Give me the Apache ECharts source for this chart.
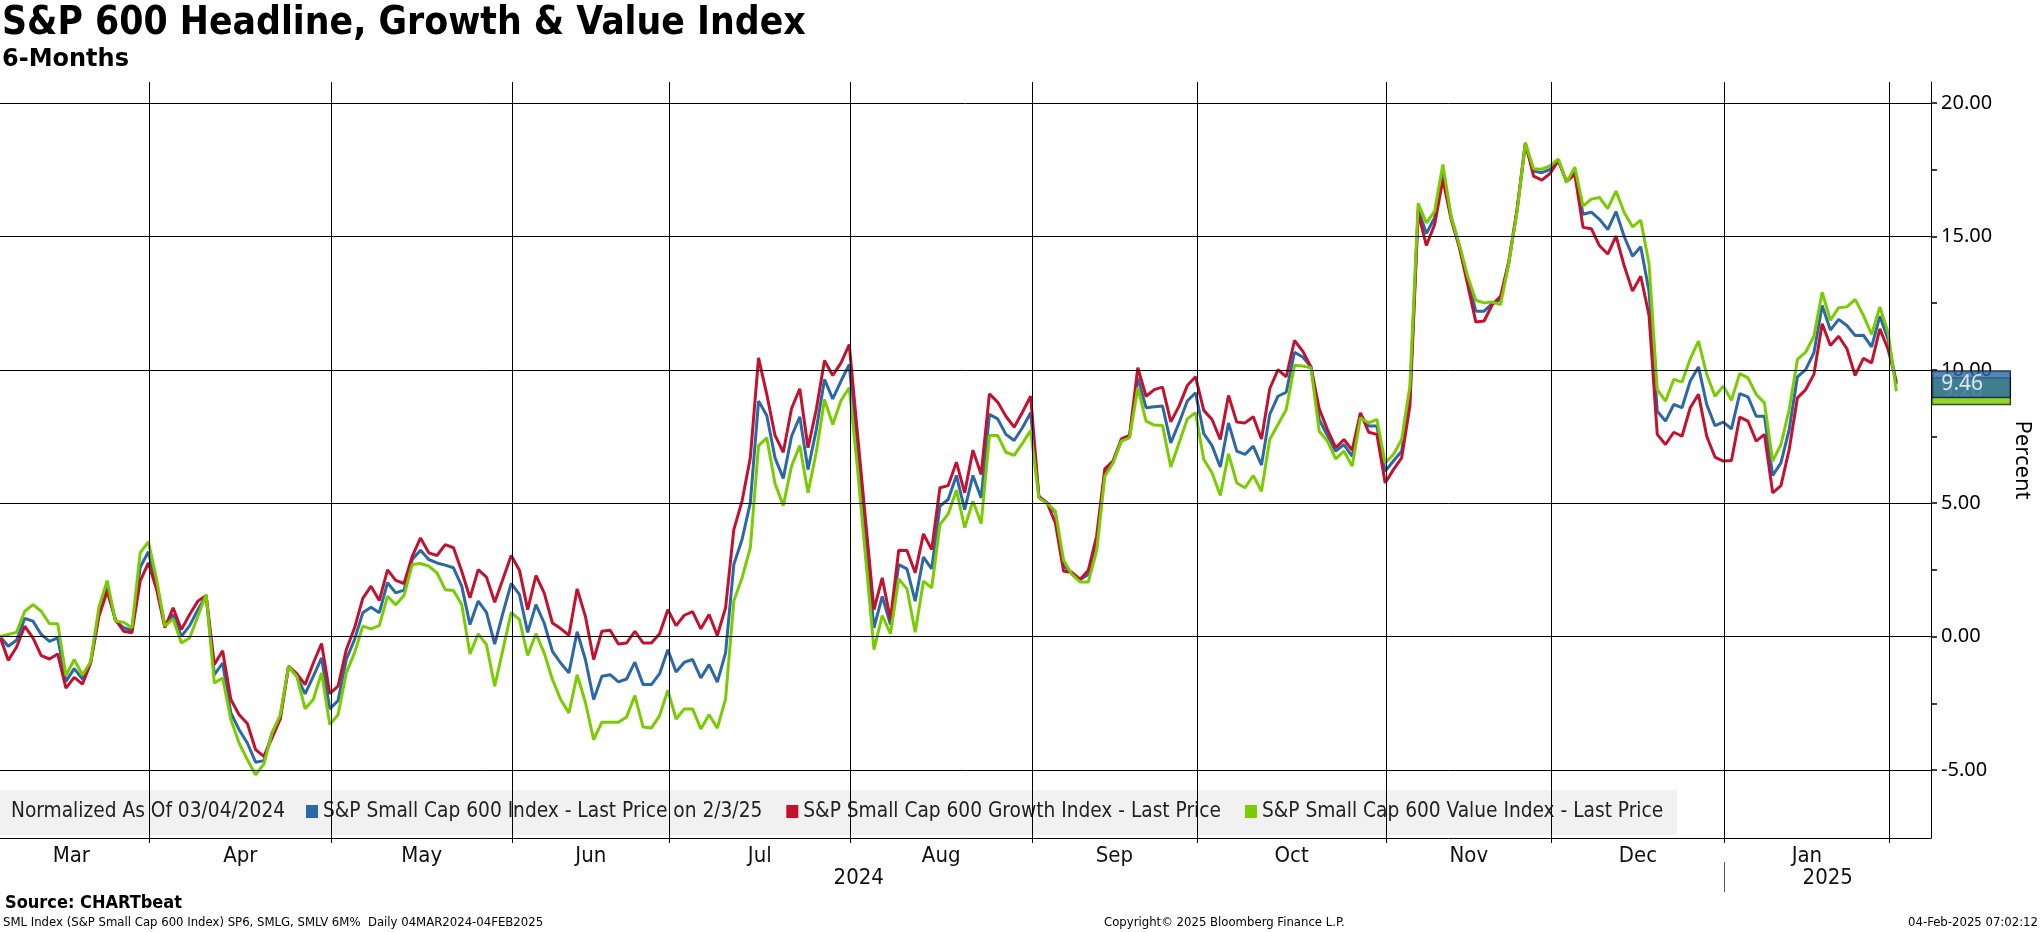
<!DOCTYPE html>
<html><head><meta charset="utf-8">
<script src="https://cdn.jsdelivr.net/npm/echarts@6/dist/echarts.min.js"></script>
<style>html,body{margin:0;padding:0;background:#fff;overflow:hidden}#c{width:2041px;height:932px}</style>
</head><body><div id="c"></div>
<script>
// ---------- DATA ----------
const startDate = '2024-03-04';
const endDate = '2025-02-03';
const marketHolidays = ['2024-03-29','2024-05-27','2024-06-19','2024-07-04','2024-09-02','2024-11-28','2024-12-25','2025-01-01','2025-01-09','2025-01-20'];
const monthNames = ['Mar','Apr','May','Jun','Jul','Aug','Sep','Oct','Nov','Dec','Jan'];
const yearNames = ['2024','2025'];
const seriesNames = ['S&P Small Cap 600 Index - Last Price on 2/3/25','S&P Small Cap 600 Growth Index - Last Price','S&P Small Cap 600 Value Index - Last Price'];
const yTickLabels = [-5, 0, 5, 10, 15, 20];

const sp600 = [
 0,-0.36,-0.14,0.68,0.58,0.08,-0.18,-0.05,-1.68,-1.2,
 -1.59,-0.95,0.91,1.89,0.6,0.33,0.23,2.6,3.18,1.95,
 0.41,0.83,0.01,0.41,1.01,1.54,-1.43,-0.99,-2.86,-3.49,
 -3.99,-4.71,-4.65,-3.61,-2.99,-1.11,-1.49,-2.15,-1.49,-0.8,
 -2.71,-2.4,-0.86,-0.11,0.89,1.1,0.89,2.02,1.64,1.74,
 2.89,3.24,2.89,2.76,2.68,2.58,1.89,0.45,1.33,0.91,
 -0.28,0.89,1.99,1.58,0.16,1.2,0.51,-0.55,-0.99,-1.36,
 0.18,-0.86,-2.36,-1.49,-1.43,-1.7,-1.59,-0.96,-1.8,-1.8,
 -1.39,-0.49,-1.33,-0.96,-0.86,-1.55,-1.05,-1.71,-0.61,2.7,
 3.64,5.01,8.83,8.29,6.7,5.93,7.51,8.24,6.26,7.76,
 9.64,8.91,9.58,10.2,6.9,3.6,0.33,1.51,0.45,2.7,
 2.54,1.33,2.98,2.54,4.89,5.14,6.04,4.76,6.04,5.2,
 8.33,8.16,7.58,7.35,7.83,8.39,5.26,5.01,4.64,2.64,
 2.39,2.14,2.33,3.51,6.2,6.58,7.33,7.51,9.7,8.58,
 8.62,8.64,7.26,8.01,8.83,9.14,7.61,7.16,6.36,8.01,
 6.95,6.83,7.14,6.43,8.33,9.01,9.16,10.66,10.48,10.11,
 8.14,7.54,6.95,7.2,6.76,8.33,7.89,7.89,6.2,6.58,
 6.95,9.01,16.01,15.11,15.7,17.41,15.74,14.64,13.39,12.2,
 12.2,12.49,12.64,14.01,16.01,18.45,17.45,17.39,17.51,17.85,
 17.05,17.41,15.83,15.91,15.64,15.26,15.93,14.99,14.26,14.61,
 12.95,8.45,8.08,8.7,8.58,9.58,10.11,8.7,7.91,8.04,
 7.79,9.11,8.99,8.26,8.26,6.04,6.51,7.76,9.74,10.01,
 10.64,12.41,11.49,11.89,11.66,11.29,11.3,10.86,12.01,11.14,
 9.46
];
const growth = [
 0,-0.89,-0.4,0.39,-0.05,-0.71,-0.84,-0.65,-1.93,-1.53,
 -1.78,-0.99,0.76,1.7,0.64,0.2,0.14,2.08,2.76,1.76,
 0.33,1.08,0.26,0.83,1.33,1.54,-1.05,-0.53,-2.36,-2.93,
 -3.26,-4.24,-4.49,-3.8,-3.09,-1.11,-1.39,-1.8,-0.99,-0.26,
 -2.14,-1.86,-0.49,0.33,1.43,1.89,1.35,2.5,2.11,1.99,
 3.01,3.7,3.14,3.04,3.45,3.33,2.45,1.45,2.51,2.23,
 1.29,2.16,3.04,2.49,1.01,2.29,1.64,0.51,0.3,0.05,
 1.79,0.76,-0.86,0.2,0.24,-0.28,-0.24,0.2,-0.24,-0.24,
 0.11,1.01,0.41,0.8,0.94,0.29,0.83,0.04,1.08,4.01,
 5.08,6.7,10.45,9.08,7.54,6.91,8.55,9.29,7.08,8.51,
 10.35,9.79,10.26,10.95,7.6,4.3,1.01,2.2,0.64,3.24,
 3.23,2.39,3.85,3.26,5.58,5.66,6.54,5.39,6.99,6.08,
 9.1,8.79,8.26,7.85,8.41,9.01,5.23,5.01,4.26,2.45,
 2.41,2.14,2.49,3.76,6.29,6.58,7.41,7.54,10.08,9.01,
 9.26,9.35,8.05,8.64,9.41,9.74,8.48,8.14,7.39,9.04,
 8.04,8.01,8.24,7.41,9.29,10.01,9.74,11.1,10.7,10.11,
 8.54,7.76,7.08,7.39,6.99,8.39,7.66,7.58,5.76,6.26,
 6.7,8.64,15.89,14.66,15.45,17.14,15.64,14.58,13.2,11.79,
 11.83,12.45,12.76,14.08,16.01,18.51,17.26,17.11,17.36,17.84,
 17.06,17.33,15.34,15.29,14.65,14.34,15.01,13.89,12.95,13.51,
 12.04,7.58,7.2,7.66,7.51,8.58,9.08,7.51,6.73,6.58,
 6.6,8.23,8.08,7.33,7.58,5.39,5.66,7.01,8.95,9.26,
 9.83,11.73,10.91,11.26,10.79,9.79,10.43,10.26,11.54,10.76,
 9.55
];
const value = [
 0,0.08,0.16,0.95,1.2,0.95,0.48,0.48,-1.46,-0.86,
 -1.44,-0.93,1.11,2.1,0.58,0.54,0.33,3.14,3.55,2.14,
 0.39,0.66,-0.24,-0.05,0.76,1.58,-1.74,-1.55,-3.11,-3.99,
 -4.61,-5.18,-4.78,-3.61,-2.93,-1.11,-1.49,-2.7,-2.36,-1.36,
 -3.3,-2.93,-1.36,-0.61,0.39,0.29,0.41,1.51,1.19,1.54,
 2.7,2.74,2.64,2.39,1.76,1.73,1.2,-0.65,0.1,-0.3,
 -1.86,-0.49,0.91,0.64,-0.71,0.11,-0.61,-1.61,-2.36,-2.86,
 -1.43,-2.46,-3.86,-3.21,-3.21,-3.21,-3.01,-2.21,-3.39,-3.43,
 -2.96,-2.01,-3.09,-2.71,-2.71,-3.46,-2.93,-3.43,-2.34,1.33,
 2.2,3.33,7.16,7.45,5.74,4.91,6.39,7.16,5.39,6.91,
 8.89,7.95,8.85,9.33,6.3,2.9,-0.49,0.79,0.11,2.16,
 1.79,0.16,2.08,1.83,4.2,4.6,5.49,4.08,5.08,4.24,
 7.54,7.54,6.91,6.79,7.24,7.73,5.2,4.99,4.7,2.86,
 2.33,2.05,2.05,3.2,6.01,6.51,7.33,7.45,9.33,8.08,
 7.93,7.91,6.36,7.26,8.16,8.39,6.64,6.14,5.29,6.85,
 5.76,5.58,6.04,5.45,7.39,7.95,8.51,10.16,10.14,10.08,
 7.7,7.33,6.66,6.95,6.39,8.2,8.01,8.14,6.51,6.83,
 7.39,9.39,16.24,15.51,15.95,17.7,15.74,14.7,13.51,12.61,
 12.51,12.54,12.45,14.01,15.95,18.51,17.54,17.52,17.65,17.9,
 17.02,17.6,16.14,16.4,16.46,16.04,16.7,15.89,15.36,15.61,
 13.98,9.26,8.83,9.64,9.54,10.41,11.08,9.83,9.01,9.39,
 8.86,9.86,9.7,9.08,8.76,6.58,7.2,8.51,10.39,10.66,
 11.26,12.91,11.86,12.33,12.36,12.64,12.04,11.33,12.36,11.39,
 9.2
];

// ---------- TRADING-DAY CATEGORIES ----------
const tradingDays = [];
(function(){
  const d = new Date(startDate + 'T00:00:00Z');
  const end = new Date(endDate + 'T00:00:00Z');
  while (d <= end) {
    const wd = d.getUTCDay();
    const iso = d.toISOString().slice(0,10);
    if (wd !== 0 && wd !== 6 && marketHolidays.indexOf(iso) < 0) tradingDays.push(iso);
    d.setUTCDate(d.getUTCDate() + 1);
  }
})();

// ---------- LAYOUT / STYLE ----------
const BLUE = '#2b68a6', RED = '#c3122f', GREEN = '#7acc00';
const NARROW = "'Liberation Sans Narrow', 'DejaVu Sans Condensed', 'Liberation Sans', sans-serif";
const HEAD = "'DejaVu Sans Condensed', 'DejaVu Sans', sans-serif";
const WIDEB = "'DejaVu Sans', sans-serif";
const NUMF = "'Noto Sans', 'DejaVu Sans', sans-serif";
const lineShift = 0.85;       // month separator drawn just before 1st trading day
const xMax = 234.2;           // right padding of the plot (in trading days)

// month boundaries
const bounds = [];
tradingDays.forEach((d, i) => {
  if (i === 0 || d.slice(0,7) !== tradingDays[i-1].slice(0,7)) bounds.push({i: i - lineShift, ym: d.slice(0,7)});
});
const monthMid = [];
for (let k = 0; k < monthNames.length; k++) monthMid.push((bounds[k].i + bounds[k+1].i) / 2);
const janBound = bounds.find(b => b.ym === '2025-01').i;
const yearMid = [(bounds[0].i + janBound) / 2, (janBound + xMax) / 2];
const sepLines = bounds.filter(b => b.i > 0 && b.i < xMax).map(b => b.i);

const key = v => v.toFixed(3);
const monthLabelMap = {}; monthMid.forEach((v, k) => monthLabelMap[key(v)] = monthNames[k]);
const yearLabelMap = {}; yearMid.forEach((v, k) => yearLabelMap[key(v)] = yearNames[k]);

const toXY = arr => arr.map((v, i) => [i, v]);
const last = arr => arr[arr.length - 1];
const yTicksAll = [];
for (let v = -5; v <= 20; v += 2.5) yTicksAll.push(v);

const chart = echarts.init(document.getElementById('c'), null, {renderer: 'canvas'});

const option = {
  animation: false,
  backgroundColor: '#ffffff',
  grid: {left: 0, top: 82, right: 109, bottom: 94, containLabel: false},
  title: [
    {text: 'S&P 600 Headline, Growth & Value Index', left: 2, top: 4, padding: 0,
     textStyle: {fontFamily: HEAD, fontWeight: 'bold', fontSize: 38.7, color: '#000'}},
    {text: '6-Months', left: 2, top: 48, padding: 0,
     textStyle: {fontFamily: WIDEB, fontWeight: 'bold', fontSize: 24, color: '#000'}}
  ],
  legend: {
    data: seriesNames, left: 306, top: 801, padding: 0, itemGap: 24,
    icon: 'rect', itemWidth: 12, itemHeight: 13, selectedMode: false,
    textStyle: {fontFamily: NARROW, fontSize: 20.7, color: '#222'}
  },
  xAxis: [
    {type: 'value', min: 0, max: xMax, position: 'bottom',
     axisLine: {show: true, onZero: false, lineStyle: {color: '#000', width: 1}},
     axisTick: {show: true, customValues: sepLines, length: 5, lineStyle: {color: '#000', width: 1}},
     axisLabel: {show: true, customValues: monthMid, margin: 7, formatter: v => monthLabelMap[key(v)] || '',
       fontFamily: NARROW, fontSize: 22, color: '#111'},
     splitLine: {show: false}},
    {type: 'value', min: 0, max: xMax, position: 'bottom', offset: 24,
     axisLine: {show: false, onZero: false},
     axisTick: {show: true, customValues: [janBound], length: 30, lineStyle: {color: '#555', width: 1}},
     axisLabel: {show: true, customValues: yearMid, margin: 5, formatter: v => yearLabelMap[key(v)] || '',
       fontFamily: NARROW, fontSize: 22, color: '#111'},
     splitLine: {show: false}}
  ],
  yAxis: {
    type: 'value', position: 'right', min: -7.55, max: 20.79,
    name: 'Percent', nameLocation: 'middle', nameRotate: -90, nameGap: 80,
    nameTextStyle: {fontFamily: NUMF, fontSize: 22, color: '#000'},
    axisLine: {show: true, onZero: false, lineStyle: {color: '#000', width: 1}},
    axisTick: {show: true, customValues: yTicksAll, length: 6, lineStyle: {color: '#000', width: 1.5}},
    axisLabel: {show: true, customValues: yTickLabels, margin: 10, formatter: v => v.toFixed(2),
      fontFamily: NUMF, fontSize: 20, color: '#000'},
    splitLine: {show: false}
  },
  graphic: [
    {type: 'rect', z: 3, shape: {x: 0, y: 790, width: 1677, height: 45}, style: {fill: 'rgba(238,238,238,0.82)'}},
    {type: 'text', z: 4, x: 11, y: 812, style: {text: 'Normalized As Of 03/04/2024', fontFamily: NARROW, fontSize: 20.7, fill: '#222', verticalAlign: 'middle'}},
    {type: 'text', z: 4, x: 5, y: 903, style: {text: 'Source: CHARTbeat', fontFamily: HEAD, fontWeight: 'bold', fontSize: 18, fill: '#000', verticalAlign: 'middle'}},
    {type: 'text', z: 4, x: 3, y: 923, style: {text: 'SML Index (S&P Small Cap 600 Index) SP6, SMLG, SMLV 6M%  Daily 04MAR2024-04FEB2025', fontFamily: NARROW, fontSize: 13, fill: '#000', verticalAlign: 'middle'}},
    {type: 'text', z: 4, x: 1104, y: 923, style: {text: 'Copyright\u00A9 2025 Bloomberg Finance L.P.', fontFamily: NARROW, fontSize: 13, fill: '#000', verticalAlign: 'middle'}},
    {type: 'text', z: 4, x: 2038, y: 923, style: {text: '04-Feb-2025 07:02:12', fontFamily: NARROW, fontSize: 13, fill: '#000', verticalAlign: 'middle', align: 'right'}}
  ],
  series: [
    {name: seriesNames[0], type: 'line', data: toXY(sp600), showSymbol: false, symbol: 'none', z: 2,
     lineStyle: {color: BLUE, width: 3}, itemStyle: {color: BLUE},
     markLine: {silent: true, symbol: 'none', label: {show: false}, animation: false,
       lineStyle: {color: '#000', width: 1, type: 'solid'},
       data: sepLines.map(x => ({xAxis: x})).concat(yTickLabels.map(y => ({yAxis: y})))}},
    {name: seriesNames[1], type: 'line', data: toXY(growth), showSymbol: false, symbol: 'none', z: 2,
     lineStyle: {color: RED, width: 3}, itemStyle: {color: RED}},
    {name: seriesNames[2], type: 'line', data: toXY(value), showSymbol: false, symbol: 'none', z: 2,
     lineStyle: {color: GREEN, width: 3}, itemStyle: {color: GREEN}},
    {name: 'lastValues', type: 'scatter', symbolSize: 0, z: 6, clip: false, silent: true,
     itemStyle: {color: 'transparent'},
     label: {show: true, position: 'right', distance: 36, formatter: p => p.value[1].toFixed(2),
       fontFamily: NUMF, fontSize: 21, lineHeight: 23, color: '#fff', padding: [2, 27, 1, 9],
       borderColor: '#000', borderWidth: 1},
     data: [
       {value: [value.length - 1, last(value)], label: {backgroundColor: GREEN}},
       {value: [sp600.length - 1, last(sp600)], label: {backgroundColor: BLUE}}
     ]}
  ]
};
chart.setOption(option);
</script></body></html>
